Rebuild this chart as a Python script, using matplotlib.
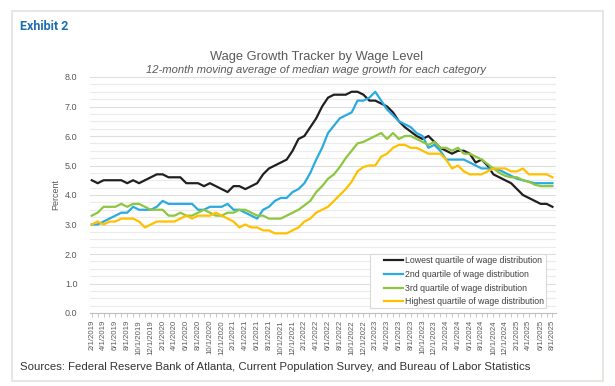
import matplotlib
matplotlib.use("Agg")
import matplotlib.pyplot as plt
import matplotlib.patches as mpatches
from matplotlib.ticker import MultipleLocator
import pandas as pd
import numpy as np

months = pd.date_range("2019-02-01", "2025-08-01", freq="MS")
month_labels = [f"{m.month}/1/{m.year}" for m in months]

lowest = [4.5, 4.4, 4.5, 4.5, 4.5, 4.5, 4.4, 4.5, 4.4, 4.5,
          4.6, 4.7, 4.7, 4.6, 4.6, 4.6, 4.4, 4.4, 4.4, 4.3,
          4.4, 4.3, 4.2, 4.1, 4.3, 4.3, 4.2, 4.3, 4.4, 4.7,
          4.9, 5.0, 5.1, 5.2, 5.5, 5.9, 6.0, 6.3, 6.6, 7.0,
          7.3, 7.4, 7.4, 7.4, 7.5, 7.5, 7.4, 7.2, 7.2, 7.1,
          7.0, 6.8, 6.5, 6.3, 6.15, 6.0, 5.9, 6.0, 5.8, 5.6,
          5.5, 5.4, 5.5, 5.5, 5.4, 5.1, 5.2, 5.0, 4.7, 4.6,
          4.5, 4.4, 4.2, 4.0, 3.9, 3.8, 3.7, 3.7, 3.6]
second = [3.0, 3.0, 3.1, 3.2, 3.3, 3.4, 3.4, 3.6, 3.5, 3.5,
          3.5, 3.6, 3.8, 3.7, 3.7, 3.7, 3.7, 3.7, 3.5, 3.5,
          3.6, 3.6, 3.6, 3.7, 3.5, 3.5, 3.4, 3.3, 3.2, 3.5,
          3.6, 3.8, 3.9, 3.9, 4.1, 4.2, 4.4, 4.75, 5.2, 5.6,
          6.1, 6.35, 6.6, 6.7, 6.8, 7.2, 7.2, 7.3, 7.5, 7.2,
          6.9, 6.7, 6.5, 6.4, 6.3, 6.1, 6.0, 5.6, 5.7, 5.5,
          5.2, 5.2, 5.2, 5.2, 5.1, 5.0, 4.9, 4.9, 4.9, 4.85,
          4.75, 4.65, 4.55, 4.5, 4.45, 4.4, 4.4, 4.4, 4.4]
third = [3.3, 3.4, 3.6, 3.6, 3.6, 3.7, 3.6, 3.7, 3.7, 3.6,
         3.5, 3.5, 3.5, 3.3, 3.3, 3.4, 3.3, 3.3, 3.4, 3.5,
         3.4, 3.3, 3.3, 3.4, 3.4, 3.5, 3.5, 3.4, 3.3, 3.3,
         3.2, 3.2, 3.2, 3.3, 3.4, 3.5, 3.65, 3.8, 4.1, 4.3,
         4.55, 4.7, 4.95, 5.25, 5.5, 5.75, 5.8, 5.9, 6.0, 6.1,
         5.9, 6.1, 5.9, 6.0, 6.0, 5.9, 5.8, 5.7, 5.8, 5.6,
         5.6, 5.5, 5.6, 5.4, 5.4, 5.3, 5.2, 5.05, 4.9, 4.75,
         4.65, 4.6, 4.6, 4.5, 4.45, 4.35, 4.3, 4.3, 4.3]
highest = [3.0, 3.1, 3.0, 3.1, 3.1, 3.2, 3.2, 3.2, 3.1, 2.9,
           3.0, 3.1, 3.1, 3.1, 3.1, 3.2, 3.3, 3.2, 3.3, 3.3,
           3.3, 3.4, 3.3, 3.2, 3.1, 2.9, 3.0, 2.9, 2.9, 2.8,
           2.8, 2.7, 2.7, 2.7, 2.8, 2.9, 3.1, 3.2, 3.4, 3.5,
           3.6, 3.8, 4.0, 4.2, 4.45, 4.8, 4.95, 5.0, 5.0, 5.3,
           5.4, 5.6, 5.7, 5.7, 5.6, 5.6, 5.5, 5.4, 5.4, 5.4,
           5.2, 4.9, 5.0, 4.8, 4.7, 4.7, 4.7, 4.8, 4.9, 4.9,
           4.9, 4.8, 4.8, 4.9, 4.7, 4.7, 4.7, 4.7, 4.6]

series_names = ["Lowest quartile of wage distribution",
                "2nd quartile of wage distribution",
                "3rd quartile of wage distribution",
                "Highest quartile of wage distribution"]
series_colors = ["#231f20", "#29abe2", "#8dc63f", "#ffc000"]

font = ["Liberation Sans", "DejaVu Sans"]
plt.rcParams["font.family"] = font

fig = plt.figure(figsize=(6.15, 3.86), dpi=100)
W, H = 615, 386

# outer frame
fig.patches.append(mpatches.Rectangle((12 / W, 1 - 381 / H), 591 / W, 370 / H,
                                      transform=fig.transFigure, fill=False,
                                      edgecolor="#e4e1dd", linewidth=1.2))

fig.text(20 / W, 1 - 27 / H, "Exhibit 2", fontsize=9, fontweight="bold",
         color="#1f6eb0", va="center", ha="left", family=["Roboto", "DejaVu Sans"])

ax = fig.add_axes([90 / W, 1 - 313 / H, 466 / W, 236 / H])
x = np.arange(len(months))
for vals, name, col in zip([lowest, second, third, highest], series_names, series_colors):
    ax.plot(x, vals, color=col, linewidth=1.6, label=name, solid_joinstyle="round")

ax.set_ylim(0, 8)
ax.set_xlim(-0.3, 78.6)
ax.yaxis.set_major_locator(MultipleLocator(1.0))
ax.yaxis.set_minor_locator(MultipleLocator(0.25))
ax.set_yticks(np.arange(0, 8.01, 1.0))
ax.set_yticklabels([f"{v:.1f}" for v in np.arange(0, 8.01, 1.0)])
ax.grid(axis="y", which="major", color="#dedede", linewidth=0.8)
ax.grid(axis="y", which="minor", color="#ebebeb", linewidth=0.8)
ax.set_axisbelow(True)
ax.tick_params(axis="y", which="both", length=0, labelsize=6.5, labelcolor="#595959", pad=9)
ax.set_xticks(x[::2])
ax.set_xticklabels(month_labels[::2], rotation=90, fontsize=5.6, color="#595959")
ax.set_xticks(x, minor=True)
ax.tick_params(axis="x", which="both", length=3, color="#bfbfbf", width=0.6, pad=2)
for s in ["top", "right", "left"]:
    ax.spines[s].set_visible(False)
ax.spines["bottom"].set_color("#bfbfbf")
ax.spines["bottom"].set_linewidth(0.8)
ax.set_ylabel("Percent", fontsize=6.5, color="#595959", labelpad=3)

fig.text(316 / W, 1 - 57 / H, "Wage Growth Tracker by Wage Level", fontsize=9.3,
         color="#595959", ha="center", va="center")
fig.text(316 / W, 1 - 70 / H, "12-month moving average of median wage growth for each category",
         fontsize=8.1, color="#595959", ha="center", va="center", style="italic")

# legend
lx0, ly0, lx1, ly1 = 370, 254, 546, 308
ax.add_patch(mpatches.Rectangle(((lx0 - 90) / 466, (313 - ly1) / 236),
                                (lx1 - lx0) / 466, (ly1 - ly0) / 236,
                                transform=ax.transAxes, facecolor="white",
                                edgecolor="#d9d9d9", linewidth=0.8, zorder=5))
leg = ax.legend(loc="upper left", bbox_to_anchor=((384 - 90) / 466, (313 - 256) / 236),
                frameon=False, fontsize=6.3, handlelength=2.2, handletextpad=0.15,
                labelspacing=0.55, borderpad=0, borderaxespad=0)
leg.set_zorder(6)
for t in leg.get_texts():
    t.set_color("#404040")

fig.text(20 / W, 1 - 367 / H,
         "Sources: Federal Reserve Bank of Atlanta, Current Population Survey, and Bureau of Labor Statistics",
         fontsize=8.2, color="#333333", ha="left", va="center",
         family=["Liberation Sans", "DejaVu Sans"])

fig.savefig("out.png", dpi=100)
